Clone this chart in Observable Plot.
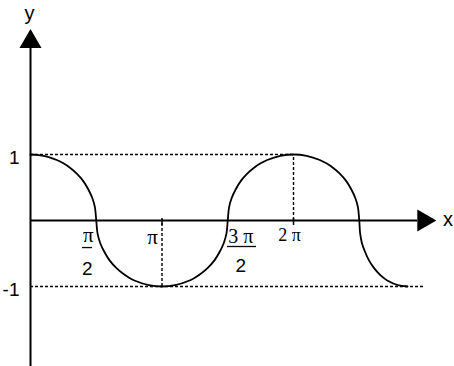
<!DOCTYPE html>
<html>
<head>
<meta charset="utf-8">
<script src="https://cdn.jsdelivr.net/npm/d3@7"></script>
<script src="https://cdn.jsdelivr.net/npm/@observablehq/plot@0.6"></script>
<style>
  html, body { margin: 0; padding: 0; background: #fff; }
  svg { display: block; }
</style>
</head>
<body>
<div id="chart"></div>
<script>
// x values in units of π, y values in function units
const curveX = [
  0, 0.05, 0.1, 0.15, 0.2, 0.25, 0.3, 0.35, 0.4, 0.44, 0.47, 0.49, 0.5,
  0.51, 0.53, 0.56, 0.6, 0.65, 0.7, 0.75, 0.8, 0.9, 1, 1.1, 1.2, 1.25, 1.3, 1.35, 1.4, 1.44, 1.47, 1.49, 1.5,
  1.51, 1.53, 1.56, 1.6, 1.65, 1.7, 1.75, 1.8, 1.9, 2, 2.1, 2.2, 2.25, 2.3, 2.35, 2.4, 2.44, 2.47, 2.49, 2.5,
  2.507, 2.52, 2.543, 2.573, 2.61, 2.647, 2.683, 2.72, 2.793, 2.867
];
const curveY = [
  1, 0.995, 0.98, 0.954, 0.917, 0.866, 0.8, 0.714, 0.6, 0.47, 0.34, 0.2, 0,
  -0.2, -0.34, -0.47, -0.6, -0.714, -0.8, -0.866, -0.917, -0.98, -1, -0.98, -0.917, -0.866, -0.8, -0.714, -0.6, -0.47, -0.34, -0.2, 0,
  0.2, 0.34, 0.47, 0.6, 0.714, 0.8, 0.866, 0.917, 0.98, 1, 0.98, 0.917, 0.866, 0.8, 0.714, 0.6, 0.47, 0.34, 0.2, 0,
  -0.2, -0.34, -0.47, -0.6, -0.714, -0.8, -0.866, -0.917, -0.98, -1
];
const curve = curveX.map((x, i) => ({x, y: curveY[i]}));

// axis extents and markers
const xAxisEnd = 2.945;      // base of x arrow
const xArrowAt = 2.99;
const yAxisTop = 2.65;
const yAxisBottom = -2.25;
const yArrowAt = 2.71;
const xTicks = [1, 2];
const yLabels = [{v: 1, t: "1"}, {v: -1, t: "-1"}];

// dashed guide lines
const hGuides = [{y: 1, x1: 0, x2: 2}, {y: -1, x1: 0, x2: 2.99}];
const vGuides = [{x: 1, y1: -1, y2: 0}, {x: 2, y1: 0, y2: 1}];

const sans = "'Liberation Sans', Arial, sans-serif";
const serif = "'Liberation Serif', 'Times New Roman', serif";

const chart = Plot.plot({
  width: 454,
  height: 366,
  marginTop: 0, marginRight: 0, marginBottom: 0, marginLeft: 0,
  x: {domain: [0, 2], range: [30, 293], axis: null},
  y: {domain: [-1, 1], range: [286, 154], axis: null},
  style: {background: "#fff", fontFamily: sans},
  marks: [
    // dashed guides
    Plot.ruleY(hGuides, {y: "y", x1: "x1", x2: "x2", stroke: "#000", strokeWidth: 1.4, strokeDasharray: "3,2"}),
    Plot.ruleX(vGuides, {x: "x", y1: "y1", y2: "y2", stroke: "#000", strokeWidth: 1.4, strokeDasharray: "3,2"}),
    // axes
    Plot.ruleY([0], {x1: 0, x2: xAxisEnd, stroke: "#000", strokeWidth: 2}),
    Plot.ruleX([0], {y1: yAxisBottom, y2: yAxisTop, stroke: "#000", strokeWidth: 2}),
    Plot.ruleX(xTicks, {y1: -0.075, y2: 0.03, stroke: "#000", strokeWidth: 1.5}),
    Plot.dot([xArrowAt], {x: d => d, y: 0, symbol: "triangle2", r: 10.5, rotate: 90, fill: "#000", stroke: "none"}),
    Plot.dot([yArrowAt], {x: 0, y: d => d, symbol: "triangle2", r: 10.5, fill: "#000", stroke: "none"}),
    // curve
    Plot.line(curve, {x: "x", y: "y", curve: "catmull-rom", stroke: "#000", strokeWidth: 1.8}),
    // axis names
    Plot.text(["y"], {x: 0, y: 3.136, text: d => d, fontSize: 20, fontFamily: sans, dx: -1}),
    Plot.text(["x"], {x: 3.175, y: 0, text: d => d, fontSize: 20, fontFamily: sans, dy: -1}),
    // y labels
    Plot.text(yLabels, {x: 0, y: "v", text: "t", fontSize: 19, fontFamily: sans, textAnchor: "end", dx: -11, dy: 3}),
    // x labels
    Plot.text([0.5], {x: d => d, y: 0, text: () => "π", fontSize: 21, fontFamily: serif, dx: -8, dy: 15}),
    Plot.ruleY([-0.41], {x1: 0.395, x2: 0.471, stroke: "#000", strokeWidth: 1.3}),
    Plot.text([0.5], {x: d => d, y: 0, text: () => "2", fontSize: 19, fontFamily: sans, dx: -9, dy: 48}),
    Plot.text([1], {x: d => d, y: 0, text: () => "π", fontSize: 21, fontFamily: serif, dx: -9.5, dy: 17}),
    Plot.text([1.5], {x: d => d, y: 0, text: () => "3 π", fontSize: 20, fontFamily: serif, dx: 13, dy: 16}),
    Plot.ruleY([-0.394], {x1: 1.498, x2: 1.7186, stroke: "#000", strokeWidth: 1.3}),
    Plot.text([1.5], {x: d => d, y: 0, text: () => "2", fontSize: 19, fontFamily: sans, dx: 13, dy: 45}),
    Plot.text([2], {x: d => d, y: 0, text: () => "2 π", fontSize: 18, fontFamily: serif, dx: -4, dy: 15})
  ]
});
document.getElementById("chart").appendChild(chart);
</script>
</body>
</html>
